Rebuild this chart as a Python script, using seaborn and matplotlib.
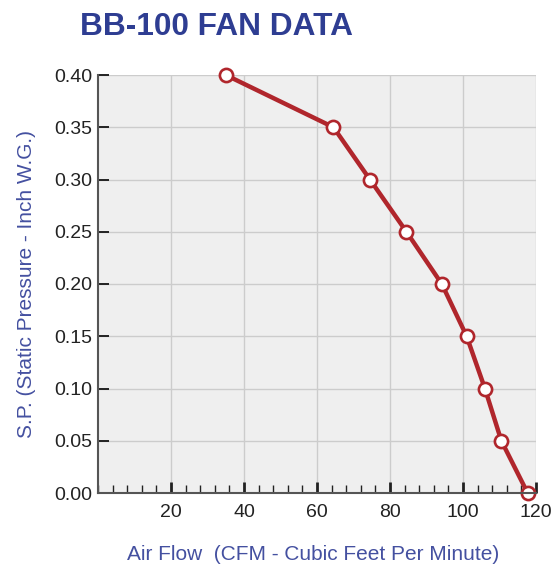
import numpy as np
import pandas as pd
import matplotlib
matplotlib.use("Agg")
import matplotlib.pyplot as plt
import seaborn as sns
from matplotlib.ticker import MultipleLocator

# fan curve
air_flow = [35, 64.5, 74.5, 84.5, 94.2, 101, 106, 110.5, 117.7]
static_pressure = [0.40, 0.35, 0.30, 0.25, 0.20, 0.15, 0.10, 0.05, 0.00]
x_ticks = [20, 40, 60, 80, 100, 120]
y_ticks = [0.00, 0.05, 0.10, 0.15, 0.20, 0.25, 0.30, 0.35, 0.40]

df = pd.DataFrame({"cfm": air_flow, "sp": static_pressure})

sns.set_style("whitegrid", {"axes.facecolor": "#efefef", "grid.color": "#cccccc"})
plt.rcParams["font.family"] = ["Liberation Sans", "DejaVu Sans"]

fig = plt.figure(figsize=(5.54, 5.68), dpi=100)
ax = fig.add_axes([98 / 554, 1 - 493 / 568, 438 / 554, 418 / 568])

sns.lineplot(data=df, x="cfm", y="sp", ax=ax, color="#b0262c", linewidth=3.2,
             marker="o", markersize=9.5, markerfacecolor="white",
             markeredgecolor="#b0262c", markeredgewidth=1.9, clip_on=False,
             sort=False)

ax.set_xlim(0, 120)
ax.set_ylim(0, 0.40)
ax.set_xticks(x_ticks)
ax.set_yticks(y_ticks)
ax.set_yticklabels([f"{v:.2f}" for v in y_ticks])
ax.xaxis.set_minor_locator(MultipleLocator(4))
ax.grid(True, which="major", color="#cccccc", linewidth=1)
ax.grid(False, which="minor")

for side in ["top", "right"]:
    ax.spines[side].set_visible(False)
for side in ["left", "bottom"]:
    ax.spines[side].set_color("#555555")
    ax.spines[side].set_linewidth(1.5)

ax.tick_params(axis="both", which="major", direction="in", length=8,
               color="#222222", labelsize=14, labelcolor="#222222",
               left=True, bottom=True)
ax.tick_params(axis="y", which="major", width=1.4, pad=4)
ax.tick_params(axis="x", which="major", width=2, pad=8)
ax.tick_params(axis="x", which="minor", direction="in", length=5.5, width=1,
               color="#222222", bottom=True)

ax.set_xlabel("Air Flow  (CFM - Cubic Feet Per Minute)", color="#4450a0",
              fontsize=15)
ax.xaxis.set_label_coords((313 - 98) / 438, -0.125)
ax.set_ylabel("S.P. (Static Pressure - Inch W.G.)", color="#4450a0",
              fontsize=15, labelpad=13)

fig.text(80 / 554, 1 - 35 / 568, "BB-100 FAN DATA", color="#2e3d92",
         fontsize=22.8, fontweight="bold")

fig.savefig("out.png", dpi=100)
